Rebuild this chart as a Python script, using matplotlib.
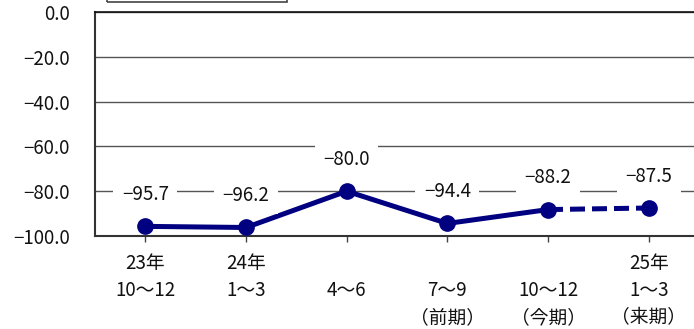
import matplotlib
matplotlib.use("Agg")
import matplotlib.pyplot as plt
from matplotlib.patches import Rectangle
from matplotlib.ticker import FixedLocator, FuncFormatter

plt.rcParams['font.family'] = ['Noto Sans CJK JP', 'DejaVu Sans']

# Quarterly values (DI); the final quarter is a forecast
periods = ["23年10〜12", "24年1〜3", "4〜6", "7〜9（前期）", "10〜12（今期）", "25年1〜3（来期）"]
values = [-95.7, -96.2, -80.0, -94.4, -88.2, -87.5]
label_row1 = ["23年", "24年", "", "", "", "25年"]
label_row2 = ["10〜12", "1〜3", "4〜6", "7〜9", "10〜12", "1〜3"]
label_row3 = ["", "", "", "（前期）", "（今期）", "（来期）"]
y_ticks = [0.0, -20.0, -40.0, -60.0, -80.0, -100.0]

W, H = 694, 329
FS = 13.5
fig = plt.figure(figsize=(W / 100, H / 100), dpi=100)
ax = fig.add_axes([95 / W, (H - 236) / H, 604 / W, 224 / H])

navy = "#000080"
x = list(range(len(values)))
n_actual = 5

ax.plot(x[:n_actual], values[:n_actual], color=navy, lw=3.6,
        solid_capstyle='round', zorder=3)
ax.plot(x[n_actual - 1:], values[n_actual - 1:], color=navy, lw=3.6,
        dashes=(3, 1.4), zorder=3)
ax.plot(x, values, 'o', color=navy, ms=11, zorder=4)

def fmt(v):
    s = f"{abs(v):.1f}"
    return ("−" + s) if v < 0 else s

for xi, v in zip(x, values):
    ax.annotate(fmt(v), (xi, v), xytext=(0, 23), textcoords='offset points',
                ha='center', va='center', fontsize=FS, color='#111111',
                bbox=dict(boxstyle='square,pad=0.45', fc='white', ec='none'),
                zorder=5)

ax.set_xlim(-0.5, len(values) - 0.5)
ax.set_ylim(-100, 0)
ax.yaxis.set_major_locator(FixedLocator(y_ticks))
ax.yaxis.set_major_formatter(FuncFormatter(lambda v, p: fmt(v) if v != 0 else "0.0"))
ax.tick_params(axis='y', length=0, pad=18, labelsize=FS, labelcolor='#111111')
ax.set_xticks(x)
ax.set_xticklabels([])
ax.tick_params(axis='x', direction='out', length=4, width=1, color='#444444')
ax.grid(axis='y', color='#555555', lw=1.0, zorder=1)
ax.set_axisbelow(True)

for side in ('left', 'bottom'):
    ax.spines[side].set_color('#333333')
    ax.spines[side].set_linewidth(1.5)
ax.spines['top'].set_color('#111111')
ax.spines['top'].set_linewidth(1.2)
ax.spines['right'].set_visible(False)

# Category labels in three aligned rows below the axis
trans = ax.get_xaxis_transform()
for rows, ypix in ((label_row1, 263), (label_row2, 291), (label_row3, 318)):
    yax = (H - ypix - (H - 236)) / 224.0
    for xi, t in zip(x, rows):
        if t:
            ax.text(xi, yax, t, transform=trans, ha='center', va='center',
                    fontsize=FS, color='#111111', clip_on=False)

# Legend frame along the top edge
fig.patches.append(Rectangle((107 / W, (H - 2) / H), 180 / W, 0.2,
                             transform=fig.transFigure, fill=False,
                             edgecolor='#444444', lw=1.2))

fig.savefig("out.png", dpi=100)
